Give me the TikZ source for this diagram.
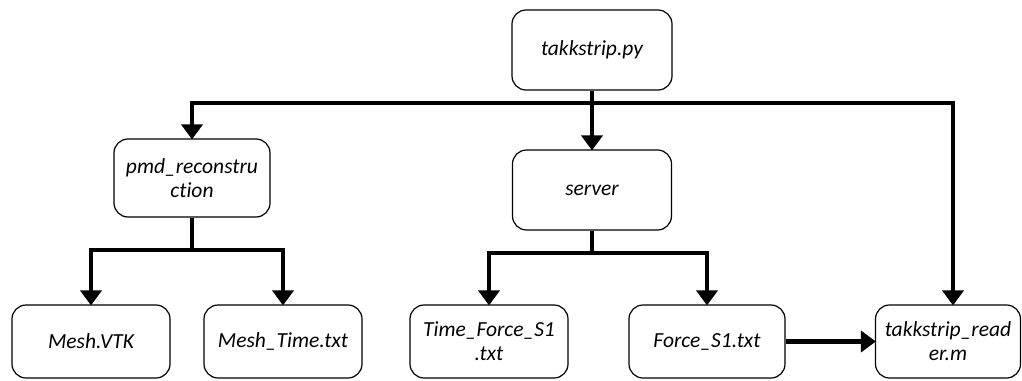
\documentclass[tikz,border=0pt]{standalone}
\usepackage{fontspec}
\setmainfont[Ligatures=NoCommon]{Carlito}
\usetikzlibrary{arrows.meta}
\begin{document}
\begin{tikzpicture}[x=1pt,y=-1pt,
  box/.style={draw, line width=1.2pt, rounded corners=14pt, minimum width=#1, minimum height=76pt, inner sep=2pt, align=center, font=\fontsize{21.5}{24}\selectfont\itshape},
  box/.default=158pt,
  wire/.style={line width=4.5pt},
  arr/.style={line width=4.5pt, -{Triangle[width=21pt,length=15pt]}, shorten >=-1pt}]
\fill[white] (0,0) rectangle (1022,380);
\useasboundingbox (0,0) rectangle (1022,380);
\node[box=160pt, minimum height=80pt] (top) at (592,50) {takkstrip.py};
\node[box=156pt, minimum height=78pt] (pmd) at (192,178) {pmd\_reconstru\\ction};
\node[box=159pt, minimum height=80pt] (server) at (592,190) {server};
\node[box=158pt, minimum height=73pt] (mesh) at (91,341.5) {Mesh.VTK};
\node[box=158pt, minimum height=73pt] (meshtime) at (283,341.5) {Mesh\_Time.txt};
\node[box=158pt, minimum height=73pt] (tf) at (489,341.5) {Time\_Force\_S1\\.txt};
\node[box=156pt, minimum height=73pt] (force) at (707,341.5) {Force\_S1.txt};
\node[box=145pt, minimum height=73pt] (reader) at (948,341.5) {takkstrip\_read\\er.m};
\coordinate (busL) at (192,103);
\coordinate (busR) at (953,103);
\coordinate (pj) at (192,250);
\coordinate (sj) at (592,253);
\draw[wire, line cap=rect] (busL) -- (busR);
\draw[arr] (top.south) -- (server.north);
\draw[arr] (busL) -- (pmd.north);
\draw[arr] (busR) -- (busR |- reader.north);
\draw[wire] (pmd.south) -- (pj);
\draw[arr] (pj) -| (mesh.north);
\draw[arr] (pj) -| (meshtime.north);
\draw[wire] (server.south) -- (sj);
\draw[arr] (sj) -| (tf.north);
\draw[arr] (sj) -| (force.north);
\draw[arr] (force.east) -- (reader.west);
\end{tikzpicture}
\end{document}
